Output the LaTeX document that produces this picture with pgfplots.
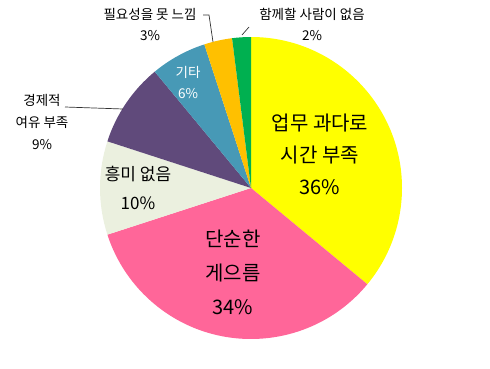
\documentclass[border=0pt]{standalone}
\usepackage{pgfplots}
\pgfplotsset{compat=1.18}
\usepackage{pgfplotstable}
\usepackage{fontspec}
\setmainfont{Noto Sans CJK KR}
\definecolor{c0}{HTML}{FFFF00}
\definecolor{c1}{HTML}{FF6699}
\definecolor{c2}{HTML}{EBF0DF}
\definecolor{c3}{HTML}{604A7B}
\definecolor{c4}{HTML}{4799B6}
\definecolor{c5}{HTML}{FFC000}
\definecolor{c6}{HTML}{00B050}
\pgfplotstableread{
value
36
34
10
9
6
3
2
}\piedata
\begin{document}
\begin{tikzpicture}
\def\cum{0}
\pgfplotsforeachungrouped \i in {0,...,6}{%
  \pgfplotstablegetelem{\i}{value}\of\piedata
  \pgfmathsetmacro{\s}{90-3.6*\cum}%
  \pgfmathsetmacro{\cum}{\cum+\pgfplotsretval}%
  \pgfmathsetmacro{\e}{90-3.6*\cum}%
  \expandafter\xdef\csname sa\i\endcsname{\s}%
  \expandafter\xdef\csname ea\i\endcsname{\e}%
}
\begin{axis}[
  width=490pt, height=368pt, scale only axis,
  xmin=0, xmax=490, ymin=0, ymax=368,
  hide axis, clip=false]
\path (axis cs:0,0) rectangle (axis cs:490,368);
\pgfplotsinvokeforeach{0,...,6}{
  \fill[c#1] (axis cs:251,180) -- ++(\csname sa#1\endcsname:151pt)
     arc[start angle=\csname sa#1\endcsname, end angle=\csname ea#1\endcsname, radius=151pt] -- cycle;
}
% leader lines
\draw[black!80, line width=0.7pt] (axis cs:65,261) -- (axis cs:123,259);
\draw[black!80, line width=0.7pt] (axis cs:203,353) -- (axis cs:209,353) -- (axis cs:213,326);
\draw[black!80, line width=0.7pt] (axis cs:242,333) -- (axis cs:249,341);
% labels
\node[align=center, font=\fontsize{20}{32}\selectfont] at (axis cs:320,214) {업무 과다로\\시간 부족\\36\%};
\node[align=center, font=\fontsize{20}{34}\selectfont] at (axis cs:233,96) {단순한\\게으름\\34\%};
\node[align=center, font=\fontsize{17}{29}\selectfont] at (axis cs:138,180.5) {흥미 없음\\10\%};
\node[align=center, text=white, font=\fontsize{13.5}{21}\selectfont] at (axis cs:188,285.5) {기타\\6\%};
\node[align=center, font=\fontsize{13.5}{22}\selectfont] at (axis cs:42,246) {경제적\\여유 부족\\9\%};
\node[align=center, font=\fontsize{13.5}{21}\selectfont] at (axis cs:150,343.5) {필요성을 못 느낌\\3\%};
\node[align=center, font=\fontsize{13.5}{21}\selectfont] at (axis cs:312,344) {함께할 사람이 없음\\2\%};
\end{axis}
\end{tikzpicture}
\end{document}
